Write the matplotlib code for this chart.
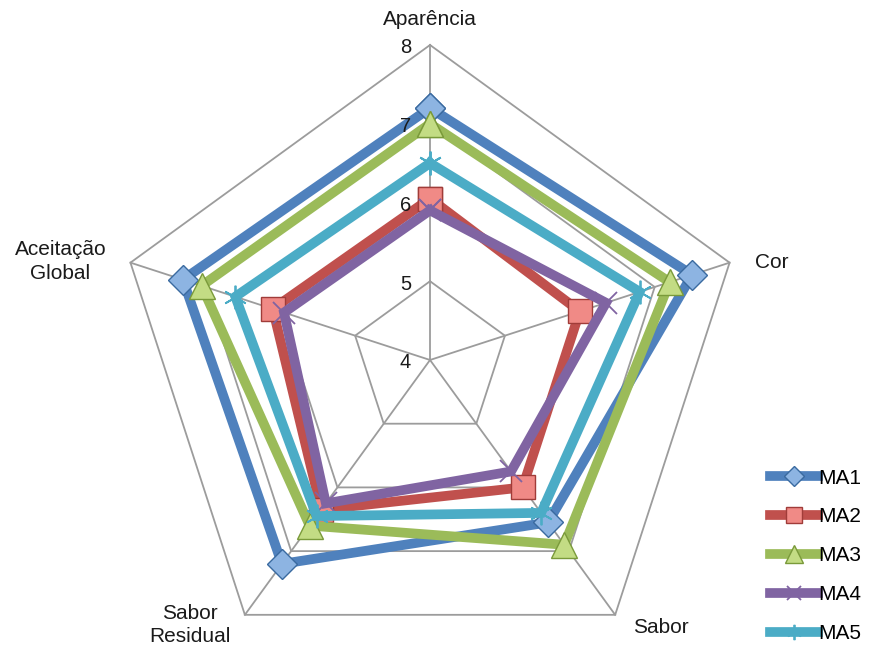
import numpy as np
import matplotlib
matplotlib.use('Agg')
import matplotlib.pyplot as plt

plt.rcParams['font.family'] = ['Liberation Sans', 'DejaVu Sans']

# Categories (clockwise from top) and values
categories = ['Aparência', 'Cor', 'Sabor', 'Sabor\nResidual', 'Aceitação\nGlobal']
ma1 = [7.2, 7.5, 6.55, 7.2, 7.3]
ma2 = [6.05, 6.0, 6.0, 6.35, 6.1]
ma3 = [7.0, 7.2, 6.9, 6.6, 7.05]
ma4 = [5.9, 6.35, 5.75, 6.25, 5.95]
ma5 = [6.5, 6.8, 6.4, 6.45, 6.6]
series_names = ['MA1', 'MA2', 'MA3', 'MA4', 'MA5']
r_ticks = [4, 5, 6, 7, 8]

fig = plt.figure(figsize=(8.76, 6.55), dpi=100)
ax = fig.add_axes([0.1313, -0.0305, 0.7192, 0.9618], projection='polar')
ax.set_theta_offset(np.pi / 2)
ax.set_theta_direction(-1)
ax.set_ylim(r_ticks[0], r_ticks[-1])
ax.set_xticks([])
ax.set_yticks([])
ax.grid(False)
ax.spines['polar'].set_visible(False)
ax.patch.set_visible(False)

n = len(categories)
angles = np.linspace(0, 2 * np.pi, n, endpoint=False)
closed = np.append(angles, angles[0])

# pentagon grid and spokes
grid_col = '#9c9c9c'
for r in r_ticks[1:]:
    ax.plot(closed, [r] * (n + 1), color=grid_col, lw=1.3, zorder=1, clip_on=False)
for a in angles:
    ax.plot([a, a], [r_ticks[0], r_ticks[-1]], color=grid_col, lw=1.3, zorder=1, clip_on=False)

# radial tick labels
for r in r_ticks:
    ax.annotate(str(r), xy=(0, r), xytext=(-19, -3), textcoords='offset pixels',
                ha='right', va='center', fontsize=14.5, color='#1a1a1a', zorder=6)

# category labels
label_offsets = [(0, 25), (42, 0), (46, -13), (-55, -10), (-70, 1)]
for a, lab, off in zip(angles, categories, label_offsets):
    ax.annotate(lab, xy=(a, r_ticks[-1]), xytext=off, textcoords='offset pixels',
                ha='center', va='center', fontsize=15, color='#1a1a1a',
                multialignment='center', linespacing=1.3)

styles = [
    dict(color='#4f81bd', marker='D', mfc='#8db4e2', mec='#3a6aa0', ms=15),
    dict(color='#c0504d', marker='s', mfc='#f08a86', mec='#a03c39', ms=17),
    dict(color='#9bbb59', marker='^', mfc='#c3dc84', mec='#7a9a3a', ms=19),
    dict(color='#8064a2', marker='x', mfc='#8064a2', mec='#8064a2', ms=16, mew=1.3),
    dict(color='#4bacc6', marker=(6, 2, 0), mfc='#4bacc6', mec='#4bacc6', ms=17, mew=1.3),
]

for name, vals, st in zip(series_names, [ma1, ma2, ma3, ma4, ma5], styles):
    v = np.append(vals, vals[0])
    st = dict(st)
    mew = st.pop('mew', 1.0)
    ax.plot(closed, v, lw=7, solid_joinstyle='miter', label=name, mew=mew,
            zorder=3, clip_on=False, **st)

fig.legend(loc='lower right', bbox_to_anchor=(1.005, -0.01), frameon=False,
           fontsize=15, handlelength=2.3, handletextpad=0.05, labelspacing=0.95,
           markerscale=0.65)

plt.savefig('out.png', dpi=100)
